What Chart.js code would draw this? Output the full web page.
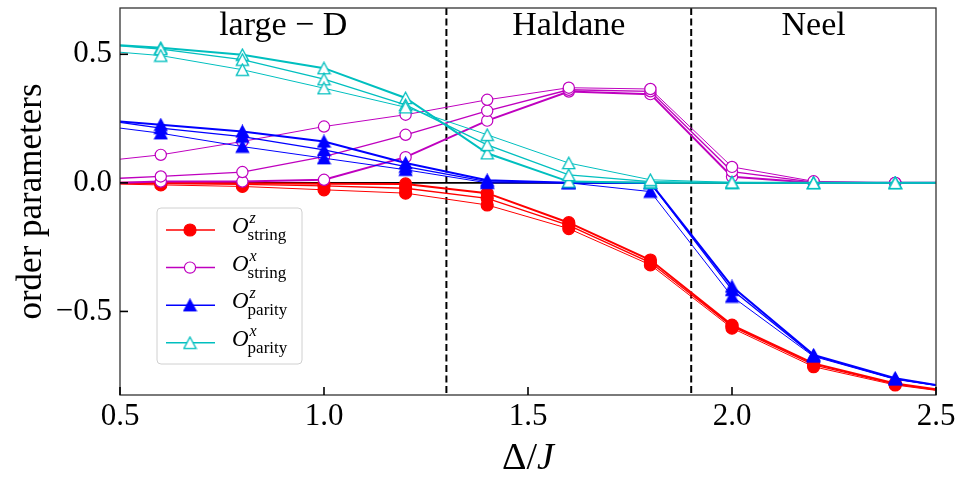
<!DOCTYPE html>
<html>
<head>
<meta charset="utf-8">
<script src="https://cdn.jsdelivr.net/npm/chart.js@4.4.0/dist/chart.umd.min.js"></script>
<style>
  html, body { margin: 0; padding: 0; background: #fff; }
  #wrap { width: 961px; height: 477px; position: relative; }
</style>
</head>
<body>
<div id="wrap"><canvas id="orderChart"></canvas></div>
<script>
// Delta/J grid (0.5 and 2.5 only carry the line to the frame, no marker)
const deltaJ = [0.5, 0.6, 0.8, 1.0, 1.2, 1.4, 1.6, 1.8, 2.0, 2.2, 2.4, 2.5];

// O^z_string, three system sizes
const stringZ1 = [0.000, 0.000, -0.002, -0.003, -0.004, -0.040, -0.155, -0.300, -0.553, -0.702, -0.780, -0.803];
const stringZ2 = [-0.002, -0.003, -0.006, -0.012, -0.021, -0.060, -0.165, -0.310, -0.558, -0.708, -0.783, -0.805];
const stringZ3 = [-0.005, -0.008, -0.014, -0.027, -0.040, -0.086, -0.178, -0.319, -0.565, -0.715, -0.786, -0.807];

// O^x_string
const stringX1 = [0.000, 0.005, 0.005, 0.012, 0.100, 0.242, 0.355, 0.345, 0.024, 0.000, 0.000, 0.000];
const stringX2 = [0.018, 0.025, 0.042, 0.102, 0.187, 0.280, 0.362, 0.356, 0.044, 0.003, 0.000, 0.000];
const stringX3 = [0.092, 0.109, 0.161, 0.219, 0.265, 0.323, 0.370, 0.365, 0.062, 0.006, 0.000, 0.000];

// O^z_parity
const parityZ1 = [0.239, 0.226, 0.200, 0.161, 0.077, 0.010, 0.000, 0.000, -0.403, -0.669, -0.760, -0.786];
const parityZ2 = [0.235, 0.213, 0.180, 0.128, 0.063, 0.005, 0.000, 0.000, -0.416, -0.672, -0.762, -0.787];
const parityZ3 = [0.213, 0.193, 0.141, 0.096, 0.051, 0.000, 0.000, -0.034, -0.442, -0.675, -0.764, -0.788];

// O^x_parity
const parityX1 = [0.535, 0.525, 0.498, 0.446, 0.330, 0.115, 0.005, 0.000, 0.000, 0.000, 0.000, 0.000];
const parityX2 = [0.533, 0.520, 0.479, 0.403, 0.303, 0.148, 0.031, 0.005, 0.000, 0.000, 0.000, 0.000];
const parityX3 = [0.508, 0.495, 0.440, 0.368, 0.294, 0.187, 0.077, 0.012, 0.002, 0.000, 0.000, 0.000];

const xTicks = [0.5, 1.0, 1.5, 2.0, 2.5];
const yTicks = [-0.5, 0.0, 0.5];
const phaseBounds = [1.3, 1.9];
const phaseNames = ['large \u2212 D', 'Haldane', 'Neel'];
const phaseX = [0.9, 1.6, 2.2];
const phaseY = 0.61;

const SERIF = '"Liberation Serif", "DejaVu Serif", serif';

// matplotlib-like '^' marker (as wide as it is tall)
function makeTriangle(color, filled) {
  const c = document.createElement('canvas');
  c.width = 15; c.height = 14;
  const g = c.getContext('2d');
  g.beginPath();
  g.moveTo(7.5, 1.2);
  g.lineTo(13.6, 12.6);
  g.lineTo(1.4, 12.6);
  g.closePath();
  g.fillStyle = filled ? color : '#ffffff';
  g.fill();
  g.strokeStyle = color;
  g.lineWidth = 1.3;
  g.stroke();
  return c;
}

const series = [
  { sup: 'z', sub: 'string', color: '#ff0000', style: 'circle', filled: true, r: 6, lines: [stringZ1, stringZ2, stringZ3] },
  { sup: 'x', sub: 'string', color: '#bf00bf', style: 'circle', filled: false, r: 5.6, lines: [stringX1, stringX2, stringX3] },
  { sup: 'z', sub: 'parity', color: '#0000ff', style: makeTriangle('#0000ff', true), filled: true, r: 7, lines: [parityZ1, parityZ2, parityZ3] },
  { sup: 'x', sub: 'parity', color: '#00bfbf', style: makeTriangle('#00bfbf', false), filled: false, r: 7, lines: [parityX1, parityX2, parityX3] }
];
const lineWidths = [2, 1.3, 1];

const datasets = [];
series.forEach((s, si) => {
  s.lines.forEach((vals, li) => {
    datasets.push({
      data: deltaJ.map((x, i) => ({ x: x, y: vals[i] })),
      borderColor: s.color,
      borderWidth: lineWidths[li],
      pointStyle: s.style,
      pointRadius: deltaJ.map(x => (x === 0.5 || x === 2.5) ? 0 : s.r),
      pointBackgroundColor: s.filled ? s.color : '#ffffff',
      pointBorderColor: s.color,
      pointBorderWidth: 1.2,
      fill: false,
      tension: 0,
      order: 100 - (si * 3 + li)
    });
  });
});

function drawMarker(ctx, s, cx, cy) {
  if (s.style === 'circle') {
    ctx.beginPath();
    ctx.arc(cx, cy, s.r, 0, Math.PI * 2);
    ctx.fillStyle = s.filled ? s.color : '#ffffff';
    ctx.fill();
    ctx.strokeStyle = s.color;
    ctx.lineWidth = 1.2;
    ctx.stroke();
  } else {
    ctx.drawImage(s.style, cx - s.style.width / 2, cy - s.style.height / 2);
  }
}

const decorations = {
  id: 'decorations',
  beforeDatasetsDraw(chart) {
    const { ctx, chartArea: a, scales: { x, y } } = chart;
    ctx.save();
    // zero line
    ctx.strokeStyle = '#000';
    ctx.lineWidth = 1.6;
    ctx.beginPath();
    ctx.moveTo(a.left, y.getPixelForValue(0));
    ctx.lineTo(a.right, y.getPixelForValue(0));
    ctx.stroke();
    // phase boundaries
    ctx.setLineDash([7, 3.5]);
    ctx.lineWidth = 2;
    phaseBounds.forEach(b => {
      const px = x.getPixelForValue(b);
      ctx.beginPath();
      ctx.moveTo(px, a.top);
      ctx.lineTo(px, a.bottom);
      ctx.stroke();
    });
    ctx.restore();
  },
  afterDraw(chart) {
    const { ctx, chartArea: a, scales: { x, y } } = chart;
    ctx.save();
    // frame
    ctx.strokeStyle = '#333';
    ctx.lineWidth = 1.3;
    ctx.strokeRect(a.left, a.top, a.right - a.left, a.bottom - a.top);
    // inward ticks
    ctx.strokeStyle = '#000';
    ctx.lineWidth = 1.6;
    xTicks.forEach(t => {
      const px = x.getPixelForValue(t);
      ctx.beginPath(); ctx.moveTo(px, a.bottom); ctx.lineTo(px, a.bottom - 8); ctx.stroke();
    });
    yTicks.forEach(t => {
      const py = y.getPixelForValue(t);
      ctx.beginPath(); ctx.moveTo(a.left, py); ctx.lineTo(a.left + 8, py); ctx.stroke();
    });

    ctx.fillStyle = '#000';
    // phase labels
    ctx.font = '34px ' + SERIF;
    ctx.textAlign = 'center';
    ctx.textBaseline = 'middle';
    phaseNames.forEach((n, i) => ctx.fillText(n, x.getPixelForValue(phaseX[i]), y.getPixelForValue(phaseY)));

    // y title
    ctx.save();
    ctx.translate(32, (a.top + a.bottom) / 2);
    ctx.rotate(-Math.PI / 2);
    ctx.font = '35px ' + SERIF;
    ctx.fillText('order parameters', 0, 0);
    ctx.restore();

    // x title: Δ/J with italic J
    ctx.textAlign = 'left';
    ctx.textBaseline = 'alphabetic';
    const f1 = '38px ' + SERIF, f2 = 'italic 38px ' + SERIF;
    ctx.font = f1; const w1 = ctx.measureText('\u0394/').width;
    ctx.font = f2; const w2 = ctx.measureText('J').width;
    const x0 = (a.left + a.right) / 2 - (w1 + w2) / 2;
    ctx.font = f1; ctx.fillText('\u0394/', x0, 469);
    ctx.font = f2; ctx.fillText('J', x0 + w1, 469);

    // legend
    const bx = 157, by = 208, bw = 145, bh = 156, br = 4;
    ctx.beginPath();
    ctx.moveTo(bx + br, by);
    ctx.arcTo(bx + bw, by, bx + bw, by + bh, br);
    ctx.arcTo(bx + bw, by + bh, bx, by + bh, br);
    ctx.arcTo(bx, by + bh, bx, by, br);
    ctx.arcTo(bx, by, bx + bw, by, br);
    ctx.closePath();
    ctx.fillStyle = 'rgba(255,255,255,0.8)';
    ctx.fill();
    ctx.strokeStyle = '#d0d0d0';
    ctx.lineWidth = 1;
    ctx.stroke();
    series.forEach((s, i) => {
      const cy = 230 + i * 37.6;
      ctx.strokeStyle = s.color;
      ctx.lineWidth = 1.5;
      ctx.beginPath(); ctx.moveTo(166, cy); ctx.lineTo(215, cy); ctx.stroke();
      drawMarker(ctx, s, 190, cy);
      ctx.fillStyle = '#000';
      ctx.textAlign = 'left';
      ctx.textBaseline = 'alphabetic';
      ctx.font = 'italic 23px ' + SERIF;
      ctx.fillText('O', 232, cy + 3);
      const ow = ctx.measureText('O').width;
      ctx.font = 'italic 16px ' + SERIF;
      ctx.fillText(s.sup, 232 + ow + 1, cy - 7);
      ctx.font = '17px ' + SERIF;
      ctx.fillText(s.sub, 232 + ow - 1, cy + 10);
    });
    ctx.restore();
  }
};

new Chart(document.getElementById('orderChart'), {
  type: 'line',
  data: { datasets: datasets },
  plugins: [decorations],
  options: {
    responsive: true,
    maintainAspectRatio: false,
    animation: false,
    layout: { padding: { top: 8, right: 25, left: 0, bottom: 0 } },
    plugins: { legend: { display: false }, tooltip: { enabled: false } },
    scales: {
      x: {
        type: 'linear', min: 0.5, max: 2.5,
        afterFit: s => { s.height = 82; s.paddingLeft = 0; s.paddingRight = 0; },
        afterBuildTicks: s => { s.ticks = xTicks.map(v => ({ value: v })); },
        grid: { display: false, drawTicks: false },
        border: { display: false },
        ticks: { color: '#000', padding: 3, font: { family: SERIF, size: 31 }, callback: v => v.toFixed(1) }
      },
      y: {
        type: 'linear', min: -0.825, max: 0.68,
        afterFit: s => { s.width = 120; s.paddingTop = 0; s.paddingBottom = 0; },
        afterBuildTicks: s => { s.ticks = yTicks.map(v => ({ value: v })); },
        grid: { display: false, drawTicks: false },
        border: { display: false },
        ticks: { color: '#000', padding: 8, font: { family: SERIF, size: 31 },
          callback: v => (v < 0 ? '\u2212' : '') + Math.abs(v).toFixed(1) }
      }
    }
  }
});
</script>
</body>
</html>
